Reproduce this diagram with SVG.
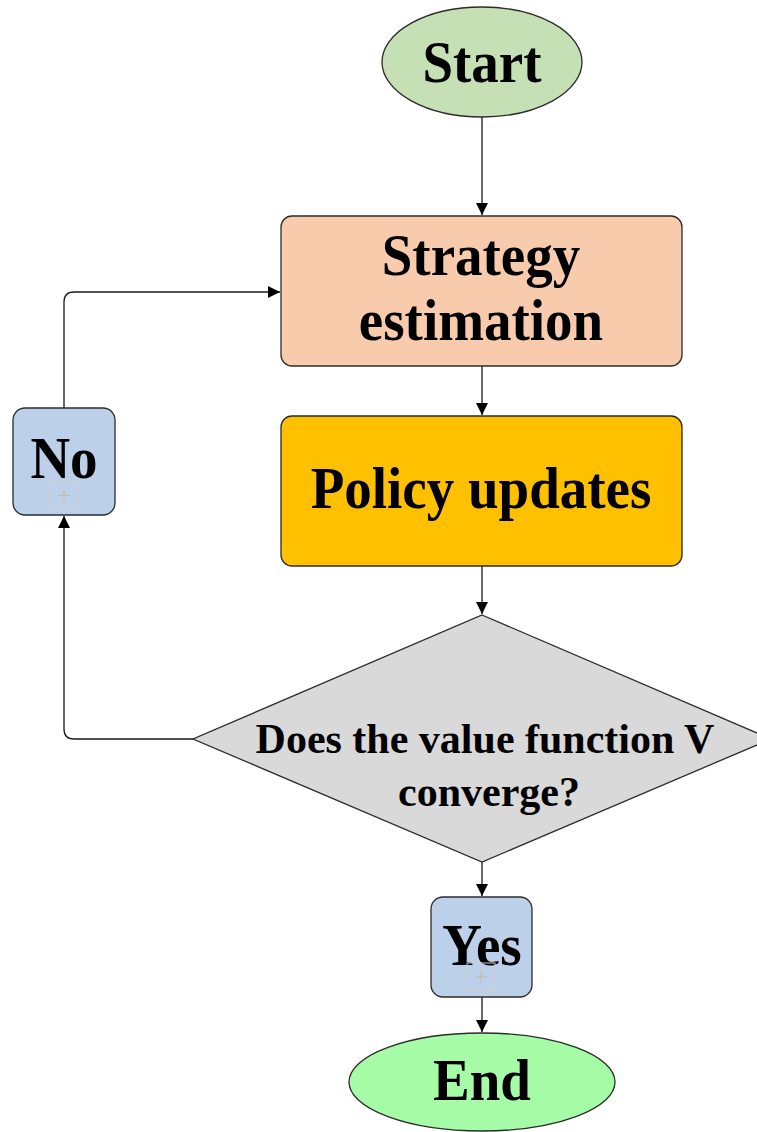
<svg xmlns="http://www.w3.org/2000/svg" width="757" height="1132" viewBox="0 0 757 1132">
  <style>
    .shape { stroke: #2b2b2b; stroke-width: 1.3; }
    .label { font-family: "Liberation Serif", "Times New Roman", serif; font-weight: bold; fill: #000; text-anchor: middle; }
    .big { font-size: 55px; }
    .mid { font-size: 42px; }
    .wire { fill: none; stroke: #1a1a1a; stroke-width: 1.3; }
    .icon-box { fill: none; stroke: #d2cfca; stroke-width: 1; }
    .icon-plus { stroke: #c2b9ac; stroke-width: 1; }
  </style>
  <defs>
    <marker id="arrow" viewBox="0 0 12 12" refX="12" refY="6" markerWidth="12" markerHeight="12" markerUnits="userSpaceOnUse" orient="auto">
      <path d="M0,0 L12,6 L0,12 Z" fill="#000"/>
    </marker>
  </defs>
  <rect width="757" height="1132" fill="#fff"/>

  <g id="connectors">
    <path class="wire" d="M482,117 V215" marker-end="url(#arrow)"/>
    <path class="wire" d="M482,366 V415" marker-end="url(#arrow)"/>
    <path class="wire" d="M482,566 V614" marker-end="url(#arrow)"/>
    <path class="wire" d="M482,862 V896" marker-end="url(#arrow)"/>
    <path class="wire" d="M482,997 V1032" marker-end="url(#arrow)"/>
    <path class="wire" d="M193,739 H74 Q64,739 64,729 V516" marker-end="url(#arrow)"/>
    <path class="wire" d="M64,408 V302 Q64,292 74,292 H280" marker-end="url(#arrow)"/>
  </g>

  <g id="start">
    <ellipse class="shape" cx="482" cy="62" rx="100" ry="55" fill="#C5E0B4"/>
    <text class="label big" transform="translate(482,82) scale(1,1.08)">Start</text>
  </g>

  <g id="strategy">
    <rect class="shape" x="281" y="216" width="401" height="150" rx="11" fill="#F8CBAD"/>
    <text class="label big" transform="translate(481,275) scale(1,1.08)">Strategy</text>
    <text class="label big" transform="translate(481,340) scale(1,1.08)">estimation</text>
  </g>

  <g id="policy">
    <rect class="shape" x="281" y="416" width="401" height="150" rx="11" fill="#FFC000"/>
    <text class="label big" transform="translate(481,508) scale(1,1.08)">Policy updates</text>
  </g>

  <g id="decision">
    <polygon class="shape" points="482,615 771,739 482,862 193,739" fill="#D9D9D9"/>
    <text class="label mid" x="485" y="753">Does the value function V</text>
    <text class="label mid" x="489" y="806">converge?</text>
  </g>

  <g id="no">
    <rect class="shape" x="13" y="408" width="102" height="107" rx="12" fill="#BDD0EA"/>
    <text class="label big" transform="translate(64,478) scale(1,1.08)">No</text>
    <rect class="icon-box" x="50" y="482" width="28" height="27"/>
    <path class="icon-plus" d="M58,495.5 H70 M64,489.5 V501.5"/>
  </g>

  <g id="yes">
    <rect class="shape" x="431" y="897" width="101" height="100" rx="12" fill="#BDD0EA"/>
    <text class="label big" transform="translate(482,965) scale(1,1.08)">Yes</text>
    <rect class="icon-box" x="467" y="963" width="28" height="28"/>
    <path class="icon-plus" d="M475,977 H487 M481,971 V983"/>
  </g>

  <g id="end">
    <ellipse class="shape" cx="482" cy="1082" rx="133" ry="49" fill="#A6FCA6"/>
    <text class="label big" transform="translate(482,1100) scale(1,1.08)">End</text>
  </g>
</svg>
